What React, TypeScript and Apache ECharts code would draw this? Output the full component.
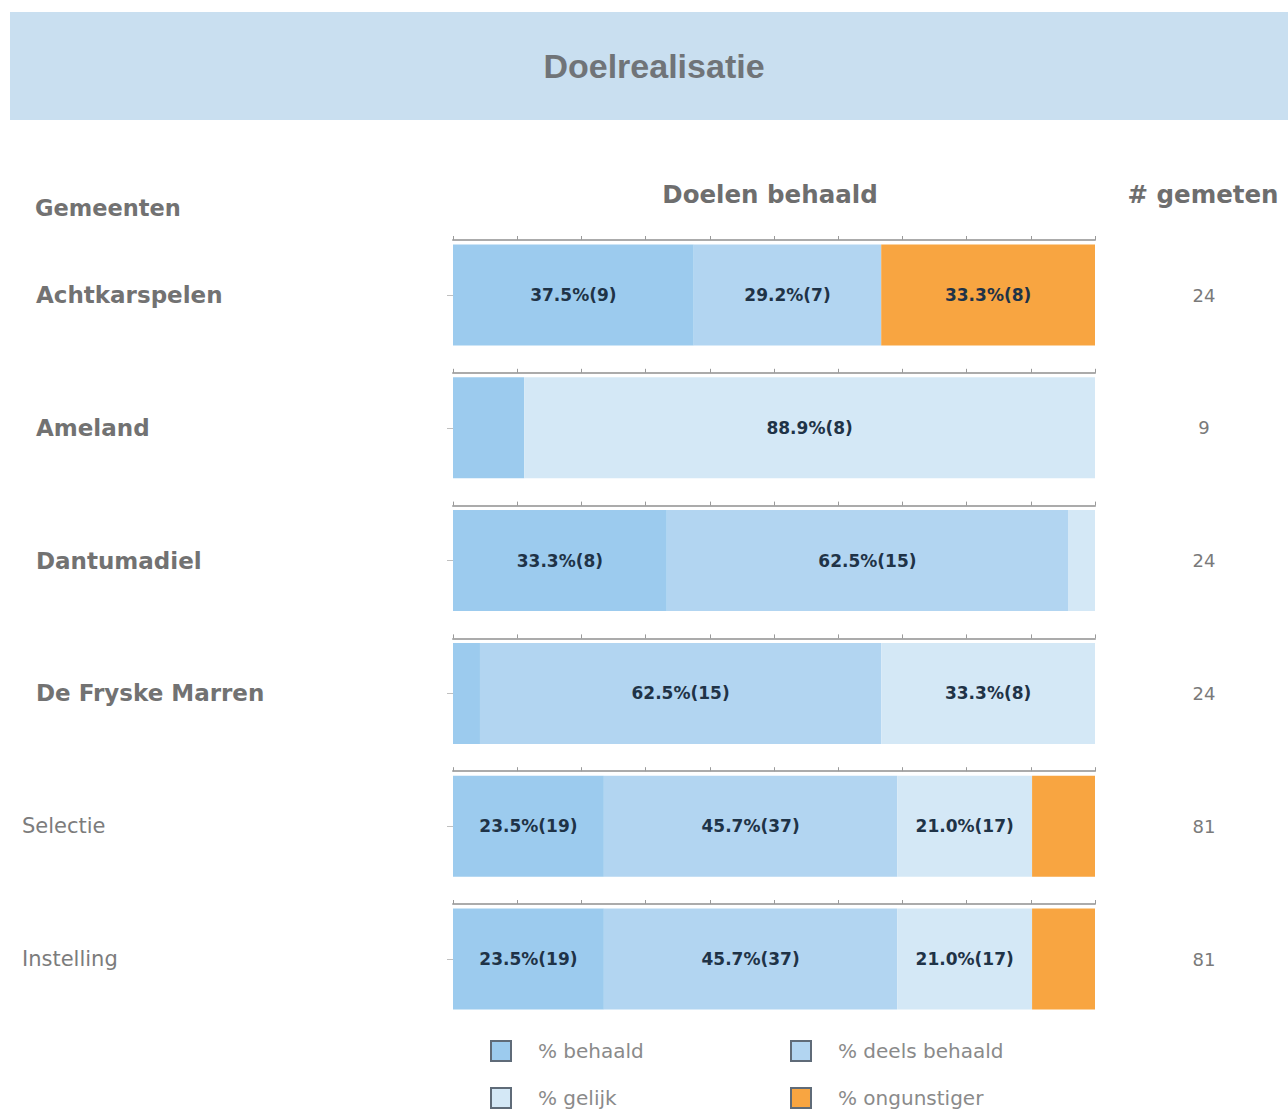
import React, { useEffect, useRef } from "react";
import * as echarts from "echarts";

const categories = ["Achtkarspelen", "Ameland", "Dantumadiel", "De Fryske Marren", "Selectie", "Instelling"];
const totals = [24, 9, 24, 24, 81, 81];
const behaaldPct = [37.5, 11.1, 33.3, 4.2, 23.5, 23.5];
const behaaldN = [9, 1, 8, 1, 19, 19];
const deelsPct = [29.2, 0, 62.5, 62.5, 45.7, 45.7];
const deelsN = [7, 0, 15, 15, 37, 37];
const gelijkPct = [0, 88.9, 4.2, 33.3, 21.0, 21.0];
const gelijkN = [0, 8, 1, 8, 17, 17];
const ongunstigerPct = [33.3, 0, 0, 0, 9.9, 9.9];
const ongunstigerN = [8, 0, 0, 0, 8, 8];
const seriesNames = ["% behaald", "% deels behaald", "% gelijk", "% ongunstiger"];
const seriesColors = ["#9ccbee", "#b2d5f1", "#d4e8f6", "#f8a541"];
const xTicks = [0, 10, 20, 30, 40, 50, 60, 70, 80, 90, 100];

export default function App() {
  const ref = useRef<HTMLDivElement>(null);
  useEffect(() => {
    if (!ref.current) return;
    const chart = echarts.init(ref.current, null, { renderer: "svg" });
    const pcts = [behaaldPct, deelsPct, gelijkPct, ongunstigerPct];
    const ns = [behaaldN, deelsN, gelijkN, ongunstigerN];
    const gridLeft = 453;
    const gridRight = 1288 - 1095;
    const grids: any[] = [];
    const xAxes: any[] = [];
    const yAxes: any[] = [];
    const series: any[] = [];
    categories.forEach((cat, i) => {
      const top = 240 + i * 132.8;
      grids.push({ left: gridLeft, right: gridRight, top, height: 110 });
      xAxes.push({
        type: "value",
        gridIndex: i,
        position: "top",
        min: xTicks[0],
        max: xTicks[xTicks.length - 1],
        interval: 10,
        axisLine: { show: true, lineStyle: { color: "#ababab", width: 2 } },
        axisTick: { show: true, length: 4, lineStyle: { color: "#9a9a9a" } },
        axisLabel: { show: false },
        splitLine: { show: false },
      });
      const big = i < 4;
      yAxes.push({
        type: "category",
        gridIndex: i,
        data: [cat],
        position: "left",
        axisLine: { show: false },
        axisTick: { show: true, alignWithLabel: true, length: 6, lineStyle: { color: "#c0c0c0" } },
        axisLabel: {
          align: "left",
          margin: big ? 417 : 431,
          fontFamily: "DejaVu Sans",
          fontSize: big ? 23 : 21,
          fontWeight: big ? "bold" : "normal",
          color: big ? "#727272" : "#7c7c7c",
        },
      });
      yAxes.push({
        type: "category",
        gridIndex: i,
        data: [String(totals[i])],
        position: "right",
        axisLine: { show: false },
        axisTick: { show: false },
        axisLabel: {
          align: "center",
          margin: 109,
          fontFamily: "DejaVu Sans",
          fontSize: 18,
          color: "#7a7a7a",
        },
      });
      seriesNames.forEach((name, s) => {
        const p = pcts[s][i];
        const n = ns[s][i];
        series.push({
          type: "bar",
          name,
          stack: "row" + i,
          xAxisIndex: i,
          yAxisIndex: i * 2,
          barWidth: 101,
          data: [p],
          itemStyle: { color: seriesColors[s] },
          label: {
            show: p >= 15,
            position: "inside",
            formatter: () => `${p.toFixed(1)}%(${n})`,
            fontFamily: "DejaVu Sans",
            fontWeight: "bold",
            fontSize: 17,
            color: "#1f3347",
          },
        });
      });
    });
    const legendPos = [
      [490, 1040],
      [790, 1040],
      [490, 1087],
      [790, 1087],
    ];
    const legends = seriesNames.map((name, k) => ({
      data: [name],
      left: legendPos[k][0],
      top: legendPos[k][1],
      padding: 0,
      itemWidth: 20,
      itemHeight: 20,
      icon: "rect",
      itemStyle: { borderColor: "#5f6b78", borderWidth: 2 },
      textStyle: { fontFamily: "DejaVu Sans", fontSize: 20, color: "#8a8a8a", padding: [0, 0, 0, 22] },
    }));
    chart.setOption({
      animation: false,
      backgroundColor: "#ffffff",
      grid: grids,
      xAxis: xAxes,
      yAxis: yAxes,
      series,
      legend: legends,
      graphic: [
        { type: "rect", shape: { x: 10, y: 12, width: 1278, height: 108 }, style: { fill: "#c9dff0" } },
        {
          type: "text",
          x: 654,
          y: 66,
          style: {
            text: "Doelrealisatie",
            fontFamily: "Liberation Sans",
            fontSize: 34,
            fontWeight: "bold",
            fill: "#707478",
            align: "center",
            verticalAlign: "middle",
          },
        },
        {
          type: "text",
          x: 35,
          y: 208,
          style: {
            text: "Gemeenten",
            fontFamily: "DejaVu Sans",
            fontSize: 22.5,
            fontWeight: "bold",
            fill: "#727272",
            align: "left",
            verticalAlign: "middle",
          },
        },
        {
          type: "text",
          x: 770,
          y: 194,
          style: {
            text: "Doelen behaald",
            fontFamily: "DejaVu Sans",
            fontSize: 24.5,
            fontWeight: "bold",
            fill: "#6e6e6e",
            align: "center",
            verticalAlign: "middle",
          },
        },
        {
          type: "text",
          x: 1203,
          y: 194,
          style: {
            text: "# gemeten",
            fontFamily: "DejaVu Sans",
            fontSize: 24.5,
            fontWeight: "bold",
            fill: "#6e6e6e",
            align: "center",
            verticalAlign: "middle",
          },
        },
      ],
    });
    return () => chart.dispose();
  }, []);
  return <div ref={ref} style={{ position: "absolute", left: 0, top: 0, width: 1288, height: 1110 }} />;
}
